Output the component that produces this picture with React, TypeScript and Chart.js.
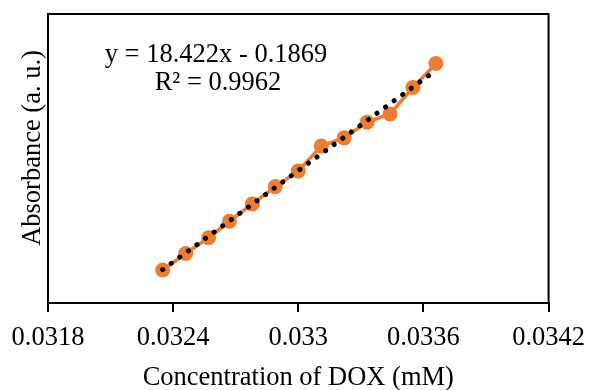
import React, { useEffect, useRef } from 'react';
import { Chart, registerables } from 'chart.js';

Chart.register(...registerables);

// ---- data ----
const concentration = [0.03235, 0.03246, 0.03257, 0.03267, 0.03278, 0.03289, 0.033, 0.03311, 0.03322, 0.03333, 0.03344, 0.03355, 0.03366];
const absorbance = [0.409, 0.411, 0.4129, 0.4149, 0.417, 0.4191, 0.421, 0.424, 0.425, 0.4269, 0.4279, 0.4311, 0.434];
const xTicks = [0.0318, 0.0324, 0.033, 0.0336, 0.0342];
const yMin = 0.405;
const yMax = 0.44;
const trendSlope = 18.422;
const trendIntercept = -0.1869;
const equationText = 'y = 18.422x - 0.1869';
const r2Text = 'R\u00B2 = 0.9962';
const xTitle = 'Concentration of DOX (mM)';
const yTitle = 'Absorbance (a. u.)';

const ORANGE = '#ED7D31';
const FONT = "'Liberation Serif', 'Times New Roman', serif";
const FONT_SIZE = 26.5;

const overlayPlugin = {
  id: 'overlay',
  afterDraw(chart: any) {
    const { ctx, chartArea } = chart;
    const { left, right, top, bottom } = chartArea;
    ctx.save();
    // top and right frame lines
    ctx.strokeStyle = '#000';
    ctx.lineWidth = 2;
    ctx.beginPath();
    ctx.moveTo(left, top);
    ctx.lineTo(right, top);
    ctx.lineTo(right, bottom);
    ctx.stroke();

    ctx.fillStyle = '#000';
    ctx.font = `${FONT_SIZE}px ${FONT}`;
    // equation
    ctx.textAlign = 'center';
    ctx.textBaseline = 'alphabetic';
    ctx.fillText(equationText, left + 168, top + 48);
    ctx.fillText(r2Text, left + 170, top + 76);
    // x title
    ctx.fillText(xTitle, (left + right) / 2, 385);
    // y title
    ctx.translate(40, 148);
    ctx.rotate(-Math.PI / 2);
    ctx.fillText(yTitle, 0, 0);
    ctx.restore();
  },
};

export default function App() {
  const ref = useRef<HTMLCanvasElement>(null);
  useEffect(() => {
    if (!ref.current) return;
    const first = concentration[0];
    const last = concentration[concentration.length - 1];
    const chart = new Chart(ref.current, {
      type: 'line',
      data: {
        datasets: [
          {
            label: 'Linear trend',
            data: [
              { x: first, y: trendSlope * first + trendIntercept },
              { x: last, y: trendSlope * last + trendIntercept },
            ],
            borderColor: '#000',
            borderWidth: 5,
            borderDash: [0.01, 10.6],
            borderCapStyle: 'round',
            pointRadius: 0,
            fill: false,
            order: 0,
          },
          {
            label: 'Absorbance',
            data: concentration.map((x, i) => ({ x, y: absorbance[i] })),
            borderColor: ORANGE,
            backgroundColor: ORANGE,
            borderWidth: 3.5,
            pointRadius: 7.5,
            pointBackgroundColor: ORANGE,
            pointBorderWidth: 0,
            fill: false,
            order: 1,
          },
        ],
      },
      options: {
        responsive: false,
        animation: false,
        layout: { padding: { left: 48, right: 43, top: 14, bottom: 0 } },
        plugins: {
          legend: { display: false },
          tooltip: { enabled: false },
        },
        scales: {
          x: {
            type: 'linear',
            min: xTicks[0],
            max: xTicks[xTicks.length - 1],
            afterBuildTicks: (scale: any) => {
              scale.ticks = xTicks.map((value) => ({ value }));
            },
            afterFit: (scale: any) => {
              scale.height = 87;
            },
            grid: {
              display: true,
              drawOnChartArea: false,
              drawTicks: true,
              tickLength: 9,
              color: '#000',
              lineWidth: 2,
            },
            border: { display: true, color: '#000', width: 2 },
            ticks: {
              autoSkip: false,
              maxRotation: 0,
              padding: 10,
              color: '#000',
              font: { family: FONT, size: FONT_SIZE },
              callback: (v: any) => parseFloat(Number(v).toFixed(4)).toString(),
            },
          },
          y: {
            type: 'linear',
            min: yMin,
            max: yMax,
            afterFit: (scale: any) => {
              scale.width = 0;
            },
            grid: { display: false, drawTicks: false },
            border: { display: true, color: '#000', width: 2 },
            ticks: { display: false },
          },
        },
      },
      plugins: [overlayPlugin],
    } as any);
    return () => chart.destroy();
  }, []);
  return (
    <div style={{ position: 'fixed', left: 0, top: 0, width: 595, height: 390, background: '#fff' }}>
      <canvas ref={ref} width={595} height={390} style={{ width: 595, height: 390, display: 'block' }} />
    </div>
  );
}
